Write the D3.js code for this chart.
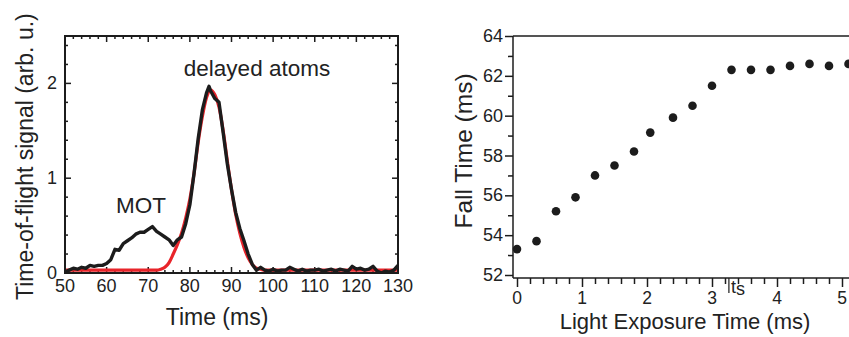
<!DOCTYPE html>
<html>
<head>
<meta charset="utf-8">
<script src="https://cdn.jsdelivr.net/npm/d3@7"></script>
<style>
  body { margin: 0; background: #fff; }
  svg { display: block; font-family: "Liberation Sans", Arial, sans-serif; }
</style>
</head>
<body>
<svg id="chart" width="849" height="337"></svg>
<script>
// ---- left panel: time-of-flight signal ----
const tofTime = [50,51,52,53,54,55,56,57,58,59,60,61,62,63,64,65,66,67,68,69,70,71,72,73,74,75,76,77,78,79,
  80,81,82,83,84,84.6,85,86,87,88,89,90,91,92,93,94,95,96,97,98,99,100,101,102,103,104,105,106,107,108,109,
  110,111,112,113,114,115,116,117,118,119,120,121,122,123,124,125,126,127,128,129,130]
const tofSignal = [0.01,0.03,0.05,0.04,0.06,0.05,0.08,0.07,0.08,0.08,0.1,0.14,0.25,0.24,0.31,0.34,0.37,0.41,0.43,0.43,
  0.46,0.49,0.44,0.41,0.38,0.35,0.29,0.35,0.38,0.52,
  0.72,1.05,1.42,1.72,1.9,1.97,1.92,1.84,1.8,1.48,1.15,0.88,0.64,0.47,0.34,0.2,0.09,0.03,0.06,0.03,0.02,
  0.04,0.02,0.03,0.03,0.06,0.04,0.02,0.04,0.02,0.03,
  0.03,0.04,0.02,0.03,0.04,0.02,0.04,0.03,0.02,0.07,0.04,0.05,0.03,0.04,0.07,0.02,0.0,0.02,0.01,0.03,0.08]
const fitTime = [50,60,70,72,73,74,75,76,77,78,79,80,81,82,83,84,85,86,87,88,89,90,91,92,93,94,95,96,97,98,110,130]
const fitSignal = [0.03,0.03,0.03,0.03,0.04,0.06,0.11,0.2,0.3,0.42,0.58,0.78,1.05,1.38,1.65,1.85,1.93,1.88,1.75,1.5,
  1.18,0.88,0.62,0.42,0.27,0.16,0.09,0.05,0.04,0.03,0.03,0.03]
const tofXTicks = [50,60,70,80,90,100,110,120,130]
const tofYTicks = [0,1,2]

// ---- right panel: fall time ----
const exposure = [0,0.3,0.6,0.9,1.2,1.5,1.8,2.05,2.4,2.7,3.0,3.3,3.6,3.9,4.2,4.5,4.8,5.1]
const fallTime = [53.3,53.7,55.2,55.9,57.0,57.5,58.2,59.15,59.9,60.5,61.5,62.3,62.3,62.3,62.5,62.6,62.5,62.6]
const fallXTicks = [0,1,2,3,4,5]
const fallYTicks = [52,54,56,58,60,62,64]
const tsValue = 3.26

const svg = d3.select('#chart')
const ink = '#1c1c1c'

// ================= left panel =================
const L = { left: 65, right: 398, top: 36, bottom: 273 }
const x1 = d3.scaleLinear().domain([50, 130]).range([L.left, L.right])
const y1 = d3.scaleLinear().domain([0, 2.5]).range([L.bottom, L.top])

const gL = svg.append('g')

const clip = svg.append('clipPath').attr('id', 'clipL')
clip.append('rect').attr('x', L.left).attr('y', L.top)
  .attr('width', L.right - L.left).attr('height', L.bottom - L.top)

const minorX1 = d3.range(50, 130.1, 2)
const minorY1 = d3.range(0, 2.51, 0.2).map(d => +d.toFixed(1))

// inward ticks on all four sides
const tickLen = d => (tofXTicks.includes(d) ? 6 : 3)
gL.append('g').selectAll('line').data(minorX1).join('line')
  .attr('x1', d => x1(d)).attr('x2', d => x1(d))
  .attr('y1', L.bottom).attr('y2', d => L.bottom - tickLen(d))
  .attr('stroke', ink).attr('stroke-width', 1.5)
gL.append('g').selectAll('line').data(minorX1).join('line')
  .attr('x1', d => x1(d)).attr('x2', d => x1(d))
  .attr('y1', L.top).attr('y2', d => L.top + tickLen(d))
  .attr('stroke', ink).attr('stroke-width', 1.5)
const tickLenY = d => (tofYTicks.includes(d) ? 6 : 3)
gL.append('g').selectAll('line').data(minorY1).join('line')
  .attr('y1', d => y1(d)).attr('y2', d => y1(d))
  .attr('x1', L.left).attr('x2', d => L.left + tickLenY(d))
  .attr('stroke', ink).attr('stroke-width', 1.5)
gL.append('g').selectAll('line').data(minorY1).join('line')
  .attr('y1', d => y1(d)).attr('y2', d => y1(d))
  .attr('x1', L.right).attr('x2', d => L.right - tickLenY(d))
  .attr('stroke', ink).attr('stroke-width', 1.5)

// curves
const curves = gL.append('g').attr('clip-path', 'url(#clipL)')
curves.append('path')
  .datum(fitTime.map((t, i) => [t, fitSignal[i]]))
  .attr('d', d3.line().x(d => x1(d[0])).y(d => y1(d[1])).curve(d3.curveMonotoneX))
  .attr('fill', 'none').attr('stroke', '#e8242a').attr('stroke-width', 3.2)
curves.append('path')
  .datum(tofTime.map((t, i) => [t, tofSignal[i]]))
  .attr('d', d3.line().x(d => x1(d[0])).y(d => y1(d[1])))
  .attr('fill', 'none').attr('stroke', ink).attr('stroke-width', 3.4)
  .attr('stroke-linejoin', 'round')

// frame
gL.append('rect').attr('x', L.left).attr('y', L.top)
  .attr('width', L.right - L.left).attr('height', L.bottom - L.top)
  .attr('fill', 'none').attr('stroke', ink).attr('stroke-width', 2)

// tick labels
gL.append('g').selectAll('text').data(tofXTicks).join('text')
  .attr('x', d => x1(d)).attr('y', 292)
  .attr('text-anchor', 'middle').attr('font-size', 18).attr('fill', '#222')
  .text(d => d)
gL.append('g').selectAll('text').data(tofYTicks).join('text')
  .attr('x', 57).attr('y', d => y1(d) + 6)
  .attr('text-anchor', 'end').attr('font-size', 18).attr('fill', '#222')
  .text(d => d)

gL.append('text').attr('x', 217).attr('y', 325).attr('text-anchor', 'middle')
  .attr('font-size', 23).attr('fill', '#222').text('Time (ms)')
gL.append('text').attr('transform', 'translate(33,300) rotate(-90)')
  .attr('text-anchor', 'start').attr('font-size', 23).attr('fill', '#222')
  .text('Time-of-flight signal (arb. u.)')
gL.append('text').attr('x', 257).attr('y', 76).attr('text-anchor', 'middle')
  .attr('font-size', 22.5).attr('fill', '#222').text('delayed atoms')
gL.append('text').attr('x', 141).attr('y', 213).attr('text-anchor', 'middle')
  .attr('font-size', 22.5).attr('fill', '#222').text('MOT')

// ================= right panel =================
const R = { left: 513, right: 849, top: 36, bottom: 278 }
const x2 = d3.scaleLinear().domain([0, 5]).range([517, 842])
const y2 = d3.scaleLinear().domain([52, 64]).range([275, 36])

const gR = svg.append('g')

// bottom axis, outward ticks
const xAxis2 = d3.axisBottom(x2)
  .tickValues(d3.range(0, 5.21, 0.2).map(d => +d.toFixed(1)))
  .tickSize(0).tickFormat('')
const xAx = gR.append('g').attr('transform', `translate(0,${R.bottom})`).call(xAxis2)
xAx.select('.domain').remove()
xAx.selectAll('.tick line')
  .attr('y2', d => (Number.isInteger(d) ? 9 : 6))
  .attr('stroke', ink).attr('stroke-width', 1.5)
gR.append('line').attr('x1', R.left).attr('x2', R.right)
  .attr('y1', R.bottom).attr('y2', R.bottom)
  .attr('stroke', ink).attr('stroke-width', 1.5)
gR.append('line').attr('x1', R.left).attr('x2', R.right)
  .attr('y1', R.top).attr('y2', R.top)
  .attr('stroke', ink).attr('stroke-width', 1.5)

// left axis, outward ticks
const yAxis2 = d3.axisLeft(y2).tickValues(d3.range(52, 64.1, 1)).tickSize(0).tickFormat('')
const yAx = gR.append('g').attr('transform', `translate(${R.left},0)`).call(yAxis2)
yAx.select('.domain').remove()
yAx.selectAll('.tick line')
  .attr('x2', d => (d % 2 === 0 ? -8 : -5))
  .attr('stroke', ink).attr('stroke-width', 1.5)
gR.append('line').attr('x1', R.left).attr('x2', R.left)
  .attr('y1', R.top).attr('y2', R.bottom)
  .attr('stroke', ink).attr('stroke-width', 1.5)

// tick labels
gR.append('g').selectAll('text').data(fallXTicks).join('text')
  .attr('x', d => x2(d)).attr('y', 303.5)
  .attr('text-anchor', 'middle').attr('font-size', 17.5).attr('fill', '#222')
  .text(d => d)
gR.append('g').selectAll('text').data(fallYTicks).join('text')
  .attr('x', 503).attr('y', d => y2(d) + 6)
  .attr('text-anchor', 'end').attr('font-size', 18).attr('fill', '#222')
  .text(d => d)

// t_s marker
gR.append('line').attr('x1', x2(tsValue)).attr('x2', x2(tsValue))
  .attr('y1', R.bottom).attr('y2', R.bottom + 15)
  .attr('stroke', ink).attr('stroke-width', 1.2)
const ts = gR.append('text').attr('x', x2(tsValue) + 2).attr('y', 293)
  .attr('font-size', 18).attr('fill', '#222')
ts.append('tspan').text('t')
ts.append('tspan').attr('dy', 2).text('s')

// points
gR.append('g').selectAll('circle').data(exposure).join('circle')
  .attr('cx', d => x2(d)).attr('cy', (d, i) => y2(fallTime[i]))
  .attr('r', 4.3).attr('fill', ink)

gR.append('text').attr('x', 685).attr('y', 329).attr('text-anchor', 'middle')
  .attr('font-size', 22).attr('fill', '#222').text('Light Exposure Time (ms)')
gR.append('text').attr('transform', 'translate(472,151) rotate(-90)')
  .attr('text-anchor', 'middle').attr('font-size', 24.5).attr('fill', '#222')
  .text('Fall Time (ms)')
</script>
</body>
</html>
